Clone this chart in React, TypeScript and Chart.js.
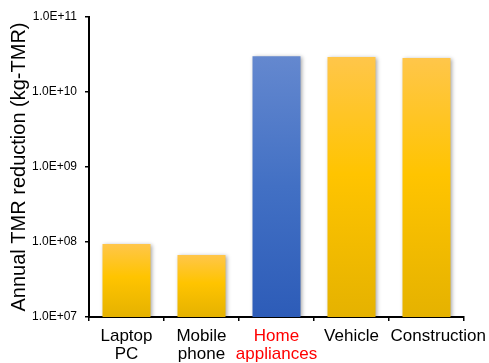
import React, { useEffect, useRef } from "react";
import { Chart, registerables } from "chart.js";

Chart.register(...registerables);

// Annual TMR reduction by product category (kg-TMR)
const categories: (string | string[])[] = [
  ["Laptop", "PC"],
  ["Mobile", "phone"],
  ["Home", "appliances"],
  "Vehicle",
  "     Construction",
];
const reductions = [9.4e7, 6.7e7, 3.0e10, 2.93e10, 2.84e10];
const highlighted = [false, false, true, false, false];
const labelColors = ["#000000", "#000000", "#ff0000", "#000000", "#000000"];
const decadeTicks = [1e7, 1e8, 1e9, 1e10, 1e11];

const FONT = "'Liberation Sans', Arial, sans-serif";

function barGradient(ctx: any) {
  const chart = ctx.chart;
  const area = chart.chartArea;
  if (!area || ctx.type !== "data") return "#FFC400";
  const yScale = chart.scales.y;
  const top = yScale.getPixelForValue(ctx.raw);
  const bottom = area.bottom;
  const g = chart.ctx.createLinearGradient(0, top, 0, bottom);
  if (highlighted[ctx.dataIndex]) {
    g.addColorStop(0, "#6488CF");
    g.addColorStop(0.5, "#4270C4");
    g.addColorStop(1, "#2D5CB8");
  } else {
    g.addColorStop(0, "#FFC64A");
    g.addColorStop(0.45, "#FFC400");
    g.addColorStop(1, "#E5B200");
  }
  return g;
}

// Soft drop shadow behind the bars
const barShadow = {
  id: "barShadow",
  beforeDatasetsDraw(chart: any) {
    const c = chart.ctx;
    c.save();
    c.shadowColor = "rgba(0,0,0,0.35)";
    c.shadowBlur = 4;
    c.shadowOffsetX = 1.5;
    c.shadowOffsetY = 1;
  },
  afterDatasetsDraw(chart: any) {
    chart.ctx.restore();
  },
};

export default function App() {
  const canvasRef = useRef<HTMLCanvasElement | null>(null);

  useEffect(() => {
    document.body.style.margin = "0";
    const canvas = canvasRef.current;
    if (!canvas) return;
    const chart = new Chart(canvas, {
      type: "bar",
      data: {
        labels: categories,
        datasets: [
          {
            data: reductions,
            backgroundColor: barGradient,
            borderWidth: 0,
            categoryPercentage: 1,
            barPercentage: 0.64,
          },
        ],
      },
      plugins: [barShadow],
      options: {
        animation: false,
        responsive: false,
        maintainAspectRatio: false,
        layout: { padding: { left: 0, right: 25, top: 17, bottom: 0 } },
        plugins: {
          legend: { display: false },
          tooltip: { enabled: false },
        },
        scales: {
          x: {
            offset: true,
            afterFit: (scale: any) => {
              scale.height = 46;
              scale.paddingLeft = 0;
              scale.paddingRight = 0;
            },
            grid: {
              offset: true,
              drawOnChartArea: false,
              drawTicks: true,
              tickLength: 4,
              color: "#000000",
              lineWidth: 1.5,
            },
            border: { display: true, color: "#000000", width: 2 },
            ticks: {
              maxRotation: 0,
              autoSkip: false,
              padding: 6,
              color: (ctx: any) => labelColors[ctx.index] ?? "#000000",
              font: { family: FONT, size: 17, lineHeight: 18 / 17 },
            },
          },
          y: {
            type: "logarithmic",
            min: 1e7,
            max: 1e11,
            afterFit: (scale: any) => {
              scale.width = 89;
            },
            afterBuildTicks: (scale: any) => {
              scale.ticks = decadeTicks.map((v) => ({ value: v }));
            },
            grid: {
              drawOnChartArea: false,
              drawTicks: true,
              tickLength: 4,
              color: "#000000",
              lineWidth: 1.5,
            },
            border: { display: true, color: "#000000", width: 2 },
            ticks: {
              padding: 8,
              color: "#000000",
              font: { family: FONT, size: 12 },
              callback: (value: any) => {
                const exp = Math.round(Math.log10(Number(value)));
                return "1.0E+" + String(exp).padStart(2, "0");
              },
            },
            title: {
              display: true,
              text: "Annual TMR reduction (kg-TMR)",
              color: "#000000",
              font: { family: FONT, size: 20, lineHeight: 1.2 },
              padding: { top: 7, bottom: 0 },
            },
          },
        },
      },
    });
    return () => chart.destroy();
  }, []);

  return (
    <div style={{ position: "relative", width: 489, height: 363, background: "#ffffff" }}>
      <canvas ref={canvasRef} width={489} height={363} style={{ display: "block" }} />
    </div>
  );
}
